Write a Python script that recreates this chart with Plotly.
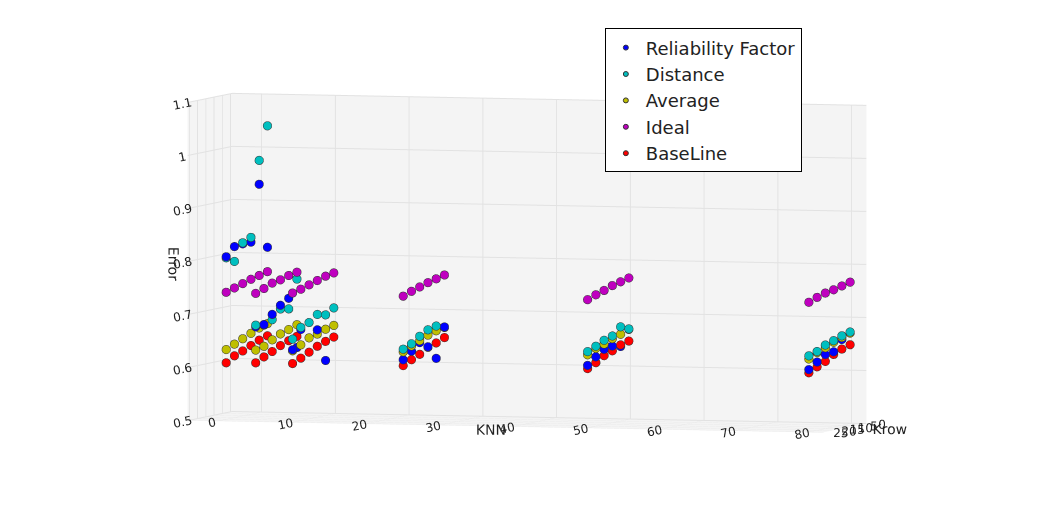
import plotly.graph_objects as go

knn = [1, 5, 10, 25, 50, 80]
krow = [0, 5, 10, 15, 20, 25]

# error values per series: one row per KNN, one value per Krow
reliability = [
    [0.812, 0.934, 0.828, 0.828, 0.826, 0.810],
    [0.624, 0.720, 0.710, 0.696, 0.680, 0.679],
    [0.700, 0.604, 0.665, 0.682, 0.672, 0.637],
    [0.668, 0.612, 0.637, 0.648, 0.635, 0.622],
    [0.671, 0.641, 0.645, 0.642, 0.631, 0.618],
    [0.671, 0.662, 0.642, 0.640, 0.629, 0.618],
]
distance = [
    [1.041, 0.979, 0.837, 0.830, 0.798, 0.808],
    [0.753, 0.700, 0.703, 0.686, 0.679, 0.682],
    [0.700, 0.690, 0.694, 0.682, 0.676, 0.657],
    [0.667, 0.673, 0.669, 0.660, 0.649, 0.642],
    [0.671, 0.678, 0.664, 0.659, 0.651, 0.644],
    [0.673, 0.669, 0.663, 0.658, 0.649, 0.644],
]
average = [
    [0.668, 0.663, 0.656, 0.649, 0.642, 0.635],
    [0.667, 0.661, 0.656, 0.648, 0.639, 0.635],
    [0.667, 0.663, 0.657, 0.653, 0.643, 0.635],
    [0.667, 0.664, 0.659, 0.652, 0.645, 0.637],
    [0.670, 0.664, 0.659, 0.652, 0.647, 0.638],
    [0.671, 0.666, 0.660, 0.653, 0.647, 0.638],
]
ideal = [
    [0.766, 0.762, 0.758, 0.753, 0.748, 0.743],
    [0.766, 0.763, 0.758, 0.755, 0.748, 0.742],
    [0.766, 0.763, 0.758, 0.753, 0.748, 0.744],
    [0.766, 0.762, 0.758, 0.753, 0.748, 0.742],
    [0.767, 0.763, 0.759, 0.753, 0.748, 0.742],
    [0.767, 0.763, 0.759, 0.756, 0.751, 0.745],
]
baseline = [
    [0.645, 0.640, 0.633, 0.626, 0.620, 0.610],
    [0.645, 0.640, 0.634, 0.626, 0.619, 0.611],
    [0.645, 0.640, 0.634, 0.626, 0.618, 0.611],
    [0.648, 0.641, 0.636, 0.626, 0.619, 0.611],
    [0.648, 0.644, 0.636, 0.630, 0.620, 0.612],
    [0.649, 0.644, 0.637, 0.627, 0.620, 0.612],
]

series = [
    ("Reliability Factor", reliability, "#0000ff"),
    ("Distance", distance, "#00bfbf"),
    ("Average", average, "#bfbf00"),
    ("Ideal", ideal, "#bf00bf"),
    ("BaseLine", baseline, "#ff0000"),
]

fig = go.Figure()
for name, rows, color in series:
    xs, ys, zs = [], [], []
    for i, k in enumerate(knn):
        for j, r in enumerate(krow):
            xs.append(k)
            ys.append(r)
            zs.append(rows[i][j])
    fig.add_trace(go.Scatter3d(
        x=xs, y=ys, z=zs, mode="markers", name=name,
        marker=dict(size=5, color=color, line=dict(color="#333333", width=1)),
    ))

axis_common = dict(backgroundcolor="#f4f4f4", gridcolor="#e2e2e2",
                   showbackground=True, zeroline=False,
                   tickfont=dict(size=12, color="#222"))
fig.update_layout(
    width=1038, height=510,
    paper_bgcolor="white",
    font=dict(family="DejaVu Sans", color="#222"),
    margin=dict(l=0, r=0, t=0, b=0),
    scene=dict(
        domain=dict(x=[0, 1], y=[0, 1]),
        xaxis=dict(title="KNN", range=[-4, 82], tickvals=[0, 10, 20, 30, 40, 50, 60, 70, 80], **axis_common),
        yaxis=dict(title="Krow", range=[26, -1], tickvals=[0, 5, 10, 15, 20, 25], **axis_common),
        zaxis=dict(title="Error", range=[0.5, 1.1], tickvals=[0.5, 0.6, 0.7, 0.8, 0.9, 1.0, 1.1], **axis_common),
        aspectmode="manual",
        aspectratio=dict(x=2.6, y=0.6, z=1.25),
        camera=dict(eye=dict(x=0.7, y=-2.3, z=0.15), center=dict(x=0, y=0, z=0),
                    projection=dict(type="orthographic")),
    ),
    legend=dict(x=0.575, y=0.96, bgcolor="white", bordercolor="black",
                borderwidth=1, font=dict(size=18)),
)

fig.write_html("out.html")
